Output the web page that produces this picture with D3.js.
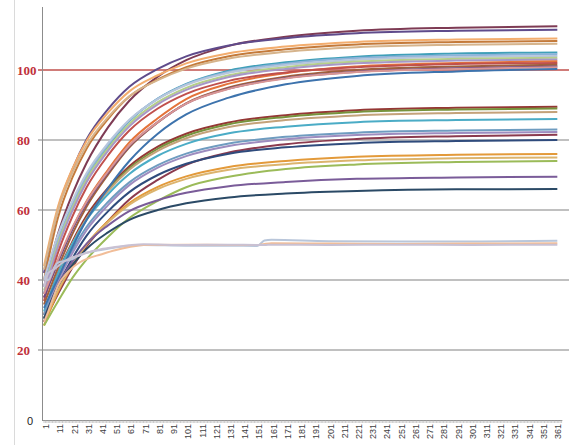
<!DOCTYPE html>
<html>
<head>
<meta charset="utf-8">
<script src="https://cdn.jsdelivr.net/npm/d3@7"></script>
<style>
  body { margin: 0; background: #fff; }
</style>
</head>
<body>
<svg width="569" height="445"></svg>
<script>
// categories: day numbers on the x axis
const allDays = d3.range(1, 366);
const labelDays = d3.range(1, 366, 10);
const yTicks = [0, 20, 40, 60, 80, 100];

const days = [1, 11, 21, 31, 46, 61, 81, 101, 131, 171, 221, 291, 362];
const lowDays = [1, 4, 8, 11, 16, 21, 26, 31, 41, 51, 61, 71, 101, 131, 151, 156, 161, 201, 251, 301, 362];

// upper group (ends near 100-112)
const topValues = [
  [38, 53.4, 64.6, 73.5, 83.6, 91.2, 98.1, 102.8, 106.9, 109.5, 111.2, 112.1, 112.5],
  [42, 60.5, 71.6, 80.2, 88.8, 95.2, 100.3, 103.9, 107, 109.1, 110.5, 111.2, 111.5],
  [44, 61.2, 71.8, 79.8, 87.8, 93.9, 98.5, 101.9, 104.8, 106.7, 108, 108.7, 109],
  [40, 58.1, 69.3, 77.6, 86, 92.4, 97.3, 100.8, 103.9, 105.9, 107.3, 108, 108.3],
  [43, 60.1, 70.6, 78.5, 86.5, 92.5, 97.1, 100.4, 103.3, 105.2, 106.5, 107.2, 107.5],
  [36, 50.2, 60.5, 69, 78.2, 85.4, 91.8, 96, 99.8, 102.2, 103.8, 104.7, 105],
  [38, 51.6, 61.6, 69.8, 78.6, 85.6, 91.8, 95.9, 99.5, 101.8, 103.4, 104.2, 104.5],
  [40, 53.1, 62.7, 70.6, 79.1, 85.8, 91.7, 95.7, 99.2, 101.4, 102.9, 103.7, 104],
  [37, 50.6, 60.6, 68.8, 77.6, 84.6, 90.8, 94.9, 98.5, 100.8, 102.4, 103.2, 103.5],
  [36, 49.7, 59.8, 68, 76.9, 83.9, 90.2, 94.3, 98, 100.3, 101.9, 102.7, 103],
  [35, 45.5, 54.9, 62.6, 71.5, 79.3, 86.2, 91.7, 96.1, 99.1, 101, 102, 102.5],
  [34, 48, 58.2, 66.5, 75.6, 82.7, 89, 93.2, 96.9, 99.3, 100.8, 101.7, 102],
  [33, 43.6, 53.2, 61, 70.1, 77.9, 85, 90.5, 95, 98.1, 100, 101, 101.5],
  [35, 45.2, 54.5, 61.9, 70.7, 78.3, 85.1, 90.4, 94.7, 97.7, 99.5, 100.5, 101],
  [36, 46, 55.1, 62.4, 71, 78.5, 85.1, 90.4, 94.6, 97.6, 99.4, 100.3, 100.8],
  [32, 40.6, 49.4, 57.2, 66.2, 74, 81.8, 87.3, 92.1, 95.9, 98.3, 99.6, 100.3]
];

// middle group (ends near 66-90)
const midValues = [
  [30, 42.1, 51, 58.4, 66.3, 72.5, 78.1, 81.8, 85, 87.1, 88.5, 89.2, 89.5],
  [29, 41.2, 50.2, 57.6, 65.6, 71.9, 77.5, 81.2, 84.5, 86.6, 88, 88.7, 89],
  [30, 41.8, 50.5, 57.6, 65.4, 71.5, 76.9, 80.5, 83.7, 85.7, 87, 87.7, 88],
  [31, 42.1, 50.4, 57.2, 64.5, 70.3, 75.5, 78.9, 81.9, 83.8, 85.1, 85.7, 86],
  [30, 40.7, 48.6, 55.2, 62.3, 67.9, 72.8, 76.1, 79, 80.9, 82.1, 82.7, 83],
  [29, 39.7, 47.7, 54.3, 61.4, 67.1, 72.1, 75.4, 78.3, 80.2, 81.4, 82, 82.3],
  [28, 36.1, 43.6, 49.7, 56.8, 63, 68.6, 72.9, 76.4, 78.8, 80.3, 81.1, 81.5],
  [28, 38.4, 46.2, 52.7, 59.6, 65.1, 70, 73.2, 76.1, 77.9, 79.1, 79.7, 80],
  [27, 36.8, 44.1, 50.2, 56.8, 62, 66.6, 69.6, 72.3, 74, 75.2, 75.8, 76],
  [28, 37.3, 44.4, 50.2, 56.5, 61.5, 66, 68.9, 71.5, 73.1, 74.2, 74.8, 75],
  [27, 34, 40.6, 45.9, 52.3, 57.7, 62.6, 66.5, 69.5, 71.7, 73, 73.7, 74],
  [28, 38.6, 45.3, 50.4, 55.6, 59.7, 62.8, 64.9, 66.8, 68, 68.9, 69.3, 69.5],
  [29, 38.4, 44.3, 48.9, 53.6, 57.2, 60, 61.9, 63.6, 64.7, 65.4, 65.9, 66]
];

// low group (flat near 50)
const lowValues = [
  [41, 40, 43.5, 45, 45.5, 46, 47.2, 47.8, 48.6, 49.3, 49.8, 50, 49.8, 49.8, 49.7, 51.3, 51.5, 51.1, 51, 51, 51.2],
  [28, 31, 35.5, 38.5, 41.5, 43.5, 45, 46, 47.3, 48.5, 49.4, 50, 50.1, 50, 50, 50.3, 50.5, 50.4, 50.3, 50.4, 50.5],
  [38, 42, 43, 44, 45.5, 46.5, 47, 47.8, 48.8, 49.4, 49.9, 50.2, 50, 50.1, 50, 50, 50.1, 50, 50.1, 50, 50.1]
];

const topColors = ["#7e3b54", "#5f4b8b", "#f3ad6e", "#c47a3a", "#d6b48c", "#3f9fb8", "#8db3d9", "#b7c6dc",
  "#b5cf8a", "#a797c6", "#e4733a", "#c0504d", "#a0603c", "#6d4b86", "#d99694", "#3d73ad"];
const midColors = ["#953735", "#77933c", "#c4a27a", "#4bacc6", "#6f9cc0", "#9d8cbf", "#8b3a4e", "#2f4b7c",
  "#e39a3a", "#dcb46e", "#9bbb59", "#7a5c99", "#2b4a66"];
const lowColors = ["#b9c6da", "#f1bd98", "#c9c1d3"];

const svg = d3.select("svg");

const x = d3.scaleBand().domain(allDays).range([43.3, 562.3]);
const xc = (d) => x(d) + x.bandwidth() / 2;
const y = d3.scaleLinear().domain([0, 118]).range([420, 7]);

// faint outer border
svg.append("line")
  .attr("x1", 14.5).attr("x2", 14.5).attr("y1", 0).attr("y2", 445)
  .attr("stroke", "#dadada").attr("stroke-width", 1);

// gridlines
svg.append("g")
  .selectAll("line")
  .data(yTicks.filter((v) => v > 0))
  .enter()
  .append("line")
  .attr("x1", 38).attr("x2", 569)
  .attr("y1", (d) => y(d)).attr("y2", (d) => y(d))
  .attr("stroke", (d) => (d === 100 ? "#c0504d" : "#c0c0c0"))
  .attr("stroke-width", (d) => (d === 100 ? 1.3 : 2));

// y axis line
svg.append("line")
  .attr("x1", 42.5).attr("x2", 42.5).attr("y1", 7).attr("y2", 420)
  .attr("stroke", "#8c8c8c").attr("stroke-width", 1);

// y labels
svg.append("g")
  .selectAll("text")
  .data(yTicks)
  .enter()
  .append("text")
  .attr("x", (d) => (d === 0 ? 27 : 17))
  .attr("y", (d) => y(d) + 4.5)
  .attr("fill", (d) => (d === 0 ? "#222" : "#c0303a"))
  .attr("font-family", (d) => (d === 0 ? "'Liberation Sans', Arial, sans-serif" : "'Liberation Serif', 'DejaVu Serif', serif"))
  .attr("font-weight", (d) => (d === 0 ? "normal" : "bold"))
  .attr("font-size", (d) => (d === 0 ? 11 : 13))
  .text((d) => d);

// x axis with a tick for every day
const xAxis = d3.axisBottom(x)
  .tickSize(3)
  .tickFormat("");
const xg = svg.append("g").attr("transform", "translate(0,420)").call(xAxis);
xg.select(".domain").attr("stroke", "#8c8c8c").attr("d", "M42,0.5H562.3");
xg.selectAll(".tick line").attr("stroke", "#a8a8a8").attr("stroke-width", 0.6);

svg.append("g")
  .selectAll("text")
  .data(labelDays)
  .enter()
  .append("text")
  .attr("transform", (d) => `translate(${xc(d) + 2},424) rotate(-90)`)
  .attr("text-anchor", "end")
  .attr("dy", "0.35em")
  .attr("fill", "#404040")
  .attr("font-family", "'Liberation Sans', Arial, sans-serif")
  .attr("font-size", 9)
  .text((d) => d);

// series
const line = d3.line()
  .x((d) => xc(d.day))
  .y((d) => y(d.v))
  .curve(d3.curveMonotoneX);

function drawGroup(values, colors, dayList, cls) {
  svg.append("g")
    .attr("class", cls)
    .selectAll("path")
    .data(values)
    .enter()
    .append("path")
    .attr("d", (vals) => line(vals.map((v, i) => ({ day: dayList[i], v }))))
    .attr("fill", "none")
    .attr("stroke", (d, i) => colors[i])
    .attr("stroke-width", 2)
    .attr("stroke-linejoin", "round");
}
drawGroup(midValues, midColors, days, "mid-group");
drawGroup(topValues, topColors, days, "top-group");
drawGroup(lowValues, lowColors, lowDays, "low-group");
</script>
</body>
</html>
